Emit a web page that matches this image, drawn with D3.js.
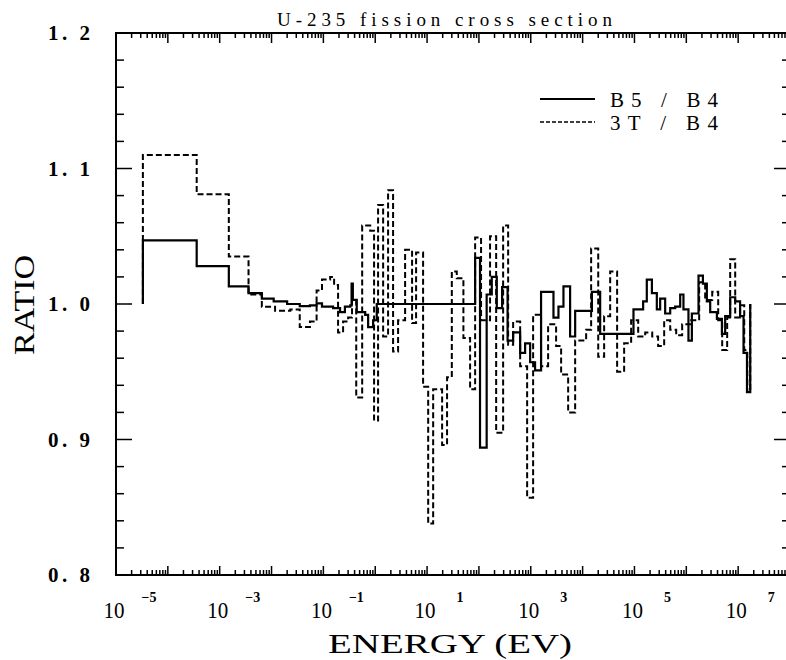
<!DOCTYPE html>
<html>
<head>
<meta charset="utf-8">
<script src="https://cdn.jsdelivr.net/npm/d3@7"></script>
<style>
  body { margin: 0; background: #fff; }
  svg { display: block; }
  text { font-family: "Liberation Serif", "DejaVu Serif", serif; fill: #000; }
</style>
</head>
<body>
<svg id="chart"></svg>
<script>
// B5 / B4 ratio (solid), step boundaries in eV
const b5Energy = [3.3e-5, 3.3e-5, 3.6e-4, 1.5e-3, 3.6e-3, 6.5e-3, 1.1e-2, 2.0e-2, 3.5e-2, 5.5e-2,
    7.4e-2, 9.4e-2, 0.154, 0.21, 0.26, 0.33, 0.35, 0.37, 0.44, 0.55, 0.64, 0.73, 0.91, 1.07,
    84.5, 105, 141, 177, 221, 280, 357, 457, 624, 778, 973, 1.21e3, 1.58e3, 2.74e3, 3.42e3,
    4.27e3, 5.74e3, 7.18e3, 1.51e4, 2.18e4, 9.57e4, 1.47e5, 1.73e5, 2.17e5, 2.70e5, 3.13e5,
    3.91e5, 4.89e5, 6.10e5, 7.62e5, 8.81e5, 1.10e6, 1.28e6, 1.72e6, 2.09e6, 2.49e6, 2.89e6,
    3.89e6, 4.86e6, 5.62e6, 7.02e6, 8.77e6, 1.09e7, 1.27e7, 1.48e7, 1.71e7];
const b5Ratio = [1.000, 1.047, 1.028, 1.013, 1.008, 1.004, 1.002, 1.000, 0.9985, 0.999,
    1.0004, 0.998, 0.997, 0.994, 0.998, 0.999, 1.015, 1.003, 0.994, 0.994, 0.992, 0.983, 0.988, 1.000,
    1.034, 0.894, 1.007, 1.020, 0.997, 1.0125, 0.973, 0.979, 0.964, 0.971, 0.957, 0.951, 1.009, 0.990, 0.998,
    1.013, 0.976, 0.995, 1.009, 0.978, 0.996, 1.002, 1.018, 1.008, 0.996, 1.004,
    0.993, 0.997, 0.998, 1.007, 0.996, 0.973, 0.993, 1.021, 1.015, 1.002, 0.994,
    0.989, 0.978, 0.991, 1.005, 1.002, 0.991, 0.964, 0.935, 1.000];

// 3T / B4 ratio (dashed)
const t3Energy = [3.3e-5, 3.3e-5, 3.6e-4, 1.5e-3, 3.6e-3, 6.5e-3, 1.17e-2, 2.3e-2, 3.5e-2, 5.5e-2,
    7.4e-2, 9.4e-2, 0.135, 0.161, 0.192, 0.24, 0.30, 0.357, 0.43, 0.56, 0.80, 0.95, 1.135, 1.42,
    1.77, 2.21, 2.76, 3.77, 5.14, 6.14, 8.38, 10.5, 13.1, 19.5, 24.3, 30.0, 37.4, 50.2, 67.6,
    84.5, 110, 164, 215, 293, 366, 457, 624, 851, 1.11e3, 1.58e3, 2.16e3, 3.08e3, 3.85e3,
    5.26e3, 7.18e3, 1.17e4, 1.46e4, 2.0e4, 2.6e4, 3.4e4, 4.63e4, 6.32e4, 8.63e4, 1.18e5,
    1.61e5, 2.20e5, 2.86e5, 3.74e5, 4.89e5, 6.38e5, 8.32e5, 1.19e6, 1.77e6, 2.31e6, 3.16e6,
    4.12e6, 4.92e6, 6.14e6, 7.02e6, 8.77e6, 1.09e7, 1.31e7, 1.5e7, 1.71e7];
const t3Ratio = [1.000, 1.110, 1.081, 1.035, 1.007, 0.998, 0.995, 0.996, 0.983, 0.987,
    1.010, 1.018, 1.020, 1.014, 0.979, 0.987, 0.990, 1.003, 0.931, 1.058, 1.054, 0.914, 1.073, 0.976,
    1.084, 0.965, 0.988, 1.040, 0.986, 1.038, 0.939, 0.838, 0.937, 0.896, 0.946, 1.024, 1.019, 0.975, 0.937,
    1.049, 0.988, 1.050, 0.905, 1.058, 0.970, 0.987, 0.954, 0.857, 0.992, 0.954, 0.985, 0.969, 0.948,
    0.920, 0.973, 0.981, 1.041, 0.961, 0.991, 1.024, 0.950, 0.971, 0.988, 0.976,
    0.979, 0.976, 0.969, 0.988, 0.981, 0.977, 0.985, 0.988, 1.016, 1.003, 1.009,
    0.988, 0.966, 0.990, 1.033, 0.990, 0.999, 0.966, 0.935, 1.000];

const xLabelExps = [-5, -3, -1, 1, 3, 5, 7];
const yTickValues = [0.8, 0.9, 1.0, 1.1, 1.2];
const yTickLabels = ["0. 8", "0. 9", "1. 0", "1. 1", "1. 2"];
const seriesNames = ["B5  /  B4", "3T  /  B4"];

const W = 786, H = 660;
const plotLeft = 116, plotRight = 790, plotTop = 33, plotBottom = 575;

const svg = d3.select("#chart").attr("width", W).attr("height", H);
svg.append("rect").attr("width", W).attr("height", H).attr("fill", "#fff");

const x = d3.scaleLog().domain([1e-5, 1e8]).range([plotLeft, plotRight]);
const y = d3.scaleLinear().domain([0.8, 1.2]).range([plotBottom, plotTop]);

// frame
svg.append("rect")
    .attr("x", plotLeft).attr("y", plotTop)
    .attr("width", plotRight - plotLeft).attr("height", plotBottom - plotTop)
    .attr("fill", "none").attr("stroke", "#000").attr("stroke-width", 2);

// log ticks on top and bottom
const xTicks = [];
d3.range(-5, 8).forEach(e => {
    d3.range(1, 10).forEach(m => xTicks.push({v: m * Math.pow(10, e), major: m === 1}));
});
xTicks.push({v: 1e8, major: true});

const tickG = svg.append("g").attr("stroke", "#000").attr("stroke-width", 1.5);
xTicks.forEach(t => {
    const px = x(t.v);
    tickG.append("line").attr("x1", px).attr("x2", px)
        .attr("y1", plotBottom).attr("y2", plotBottom - (t.major ? 9 : 5));
    tickG.append("line").attr("x1", px).attr("x2", px)
        .attr("y1", plotTop).attr("y2", plotTop + (t.major ? 10 : 5));
});

// linear ticks left and right
d3.range(0, 21).forEach(i => {
    const v = 0.8 + i * 0.02;
    const major = i % 5 === 0;
    const py = y(v);
    const len = major ? 16 : 8;
    tickG.append("line").attr("x1", plotLeft).attr("x2", plotLeft + len).attr("y1", py).attr("y2", py);
    tickG.append("line").attr("x1", plotRight).attr("x2", plotRight - len).attr("y1", py).attr("y2", py);
});

// y tick labels
yTickValues.forEach((v, i) => {
    svg.append("text")
        .attr("x", 48).attr("y", y(v) + 7)
        .attr("font-size", 21).attr("font-weight", "bold")
        .attr("textLength", 42).attr("lengthAdjust", "spacing")
        .text(yTickLabels[i]);
});

// x tick labels: 10 with exponent
xLabelExps.forEach(e => {
    const px = x(Math.pow(10, e));
    svg.append("text")
        .attr("x", px - 2).attr("y", 618)
        .attr("text-anchor", "middle")
        .attr("font-size", 23)
        .attr("textLength", 21).attr("lengthAdjust", "spacingAndGlyphs")
        .text("10");
    svg.append("text")
        .attr("x", px + 33).attr("y", 602)
        .attr("text-anchor", "middle")
        .attr("font-size", 14).attr("font-weight", "bold")
        .text(e < 0 ? "\u2212" + (-e) : String(e));
});

// axis titles
svg.append("text")
    .attr("x", 328).attr("y", 653)
    .attr("font-size", 28)
    .attr("textLength", 244).attr("lengthAdjust", "spacingAndGlyphs")
    .text("ENERGY  (EV)");

svg.append("text")
    .attr("transform", "translate(34,355) rotate(-90)")
    .attr("font-size", 29)
    .attr("textLength", 100).attr("lengthAdjust", "spacingAndGlyphs")
    .text("RATIO");

svg.append("text")
    .attr("x", 277).attr("y", 26)
    .attr("font-size", 19)
    .attr("textLength", 335).attr("lengthAdjust", "spacing")
    .text("U-235  fission cross section");

// series
const line = d3.line()
    .x(d => x(d[0]))
    .y(d => y(d[1]))
    .curve(d3.curveStepAfter);

const b5Data = b5Energy.map((e, i) => [e, b5Ratio[i]]);
const t3Data = t3Energy.map((e, i) => [e, t3Ratio[i]]);

svg.append("path")
    .datum(t3Data)
    .attr("d", line)
    .attr("fill", "none").attr("stroke", "#000")
    .attr("stroke-width", 2).attr("stroke-dasharray", "6,3");

svg.append("path")
    .datum(b5Data)
    .attr("d", line)
    .attr("fill", "none").attr("stroke", "#000")
    .attr("stroke-width", 2.2);

// legend
const legend = svg.append("g");
[0, 1].forEach(i => {
    const ly = 99 + i * 23;
    legend.append("line")
        .attr("x1", 540).attr("x2", 595).attr("y1", ly).attr("y2", ly)
        .attr("stroke", "#000").attr("stroke-width", i === 0 ? 2 : 1.5)
        .attr("stroke-dasharray", i === 0 ? null : "4,2");
    legend.append("text")
        .attr("x", 610).attr("y", ly + 8)
        .attr("font-size", 21)
        .attr("textLength", 108).attr("lengthAdjust", "spacing")
        .text(seriesNames[i]);
});
</script>
</body>
</html>
